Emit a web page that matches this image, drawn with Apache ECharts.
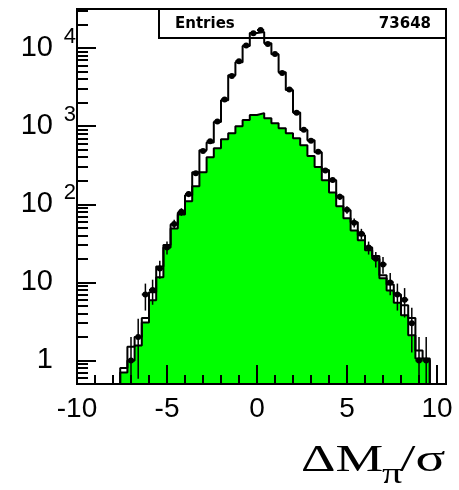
<!DOCTYPE html>
<html><head><meta charset="utf-8">
<script src="https://cdn.jsdelivr.net/npm/echarts@6/dist/echarts.min.js"></script>
<style>html,body{margin:0;padding:0;background:#fff}#c{width:459px;height:490px}</style>
</head><body><div id="c"></div>
<script>
// ---- data ----
const binCenters = [-7.4, -7.0, -6.6, -6.2, -5.8, -5.4, -5.0, -4.6, -4.2, -3.8, -3.4, -3.0, -2.6, -2.2, -1.8, -1.4, -1.0, -0.6, -0.2, 0.2, 0.6, 1.0, 1.4, 1.8, 2.2, 2.6, 3.0, 3.4, 3.8, 4.2, 4.6, 5.0, 5.4, 5.8, 6.2, 6.6, 7.0, 7.4, 7.8, 8.2, 8.6, 9.0, 9.4];
const BIN_WIDTH = 0.4;
const totalMC = [0.8, 1.5, 2.0, 3.5, 7.5, 16, 30, 55, 78, 130, 257, 490, 620, 1130, 2150, 4500, 6600, 10600, 15600, 16000, 11500, 8300, 4900, 2900, 1500, 890, 660, 465, 275, 203, 126, 84, 59, 40, 28, 21.7, 12.3, 9.4, 7.0, 5.1, 3.5, 1.34, 1.06];
const greenMC = [0.7, 1.0, 1.56, 3.07, 5.9, 11.6, 28, 49, 74, 109, 170, 257, 400, 523, 680, 812, 1000, 1200, 1390, 1470, 1260, 1090, 940, 812, 700, 570, 415, 300, 203, 142, 94, 66, 46, 34.6, 25.7, 20, 11.3, 7.9, 5.5, 3.8, 2.1, 1.06, 1.0];
const dataCounts = [null, 1, 2, 7, 8, 15, 28, 56, 80, 135, 250, 480, 640, 1150, 2200, 4400, 6800, 10800, 15500, 17000, 11300, 8400, 4800, 2950, 1480, 900, 650, 470, 270, 205, 125, 85, 58, 42, 28, 20, 17, 10, 7, 6, 3, 1, 1];
const xMajorTicks = [-10, -5, 0, 5, 10];
const xMinorTicks = [-9, -8, -7, -6, -4, -3, -2, -1, 1, 2, 3, 4, 6, 7, 8, 9];
const yMinorTicks = [0.6, 0.7, 0.8, 0.9, 2, 3, 4, 5, 6, 7, 8, 9, 20, 30, 40, 50, 60, 70, 80, 90,
  200, 300, 400, 500, 600, 700, 800, 900, 2000, 3000, 4000, 5000, 6000, 7000, 8000, 9000, 20000, 30000];
const yLabelText = {1: '1', 10: '10', 100: '10', 1000: '10', 10000: '10'};
const yExponentText = {100: '2', 1000: '3', 10000: '4'};
const statsName = 'Entries';
const statsValue = '73648';
const X_MIN = -10, X_MAX = 10.5, Y_MIN = 0.5, Y_MAX = 31623;

function stepPoints(vals) {
  const n = vals.length;
  const pts = [[binCenters[0] - BIN_WIDTH / 2, Y_MIN]];
  for (let i = 0; i < n; i++) pts.push([binCenters[i] - BIN_WIDTH / 2, vals[i]]);
  pts.push([binCenters[n - 1] + BIN_WIDTH / 2, vals[n - 1]]);
  pts.push([binCenters[n - 1] + BIN_WIDTH / 2, Y_MIN]);
  return pts;
}
const dataPoints = [];
binCenters.forEach((c, i) => { if (dataCounts[i] != null) dataPoints.push([c, dataCounts[i], Math.sqrt(dataCounts[i])]); });
function isDecade(v, table) {
  const r = Math.round(v);
  return Math.abs(v - r) < 1e-6 && table[r] !== undefined;
}

const chart = echarts.init(document.getElementById('c'), null, {renderer: 'canvas'});
const FONT = 'Liberation Sans';
chart.setOption({
  animation: false,
  backgroundColor: '#fff',
  grid: {left: 77, top: 9, width: 369, height: 375, show: true, borderColor: '#000', borderWidth: 2, backgroundColor: 'transparent'},
  xAxis: [
    {type: 'value', min: X_MIN, max: X_MAX, position: 'bottom', z: 10,
     axisLine: {onZero: false, lineStyle: {color: '#000', width: 2}},
     axisTick: {inside: true, length: 19, lineStyle: {color: '#000', width: 2}, customValues: xMajorTicks},
     axisLabel: {customValues: xMajorTicks, margin: 11, color: '#000', fontFamily: FONT, fontSize: 28},
     splitLine: {show: false}},
    {type: 'value', min: X_MIN, max: X_MAX, position: 'bottom', z: 10,
     axisLine: {show: false, onZero: false},
     axisTick: {inside: true, length: 9, lineStyle: {color: '#000', width: 2}, customValues: xMinorTicks},
     axisLabel: {show: false}, splitLine: {show: false}}
  ],
  yAxis: [
    {type: 'log', logBase: 10, min: Y_MIN, max: Y_MAX, position: 'left', z: 10,
     axisLine: {show: true, onZero: false, lineStyle: {color: '#000', width: 2}},
     axisTick: {inside: true, length: 19, lineStyle: {color: '#000', width: 2}},
     axisLabel: {margin: 24, color: '#000', fontFamily: FONT, fontSize: 29,
       formatter: v => isDecade(v, yLabelText) ? yLabelText[Math.round(v)] : ''},
     splitLine: {show: false}},
    {type: 'log', logBase: 10, min: Y_MIN, max: Y_MAX, position: 'left', z: 10,
     axisLine: {show: false, onZero: false},
     axisTick: {inside: true, length: 11, lineStyle: {color: '#000', width: 2}, customValues: yMinorTicks},
     axisLabel: {margin: 1, color: '#000',
       formatter: v => isDecade(v, yExponentText) ? '{e|' + yExponentText[Math.round(v)] + '}\n{s| }' : '',
       rich: {e: {fontFamily: FONT, fontSize: 22, lineHeight: 22, color: '#000'},
              s: {fontSize: 10, lineHeight: 22}}},
     splitLine: {show: false}}
  ],
  graphic: [
    {type: 'rect', z: 1, shape: {x: 159, y: 9, width: 287, height: 29}, style: {fill: '#fff', stroke: '#000', lineWidth: 2}},
    {type: 'text', z: 1, x: 175, y: 24, style: {text: statsName, font: 'bold 15px "DejaVu Sans"', fill: '#000', align: 'left', verticalAlign: 'middle', textAlign: 'left', textVerticalAlign: 'middle'}},
    {type: 'text', z: 1, x: 431, y: 24, style: {text: statsValue, font: 'bold 15px "DejaVu Sans"', fill: '#000', align: 'right', verticalAlign: 'middle', textAlign: 'right', textVerticalAlign: 'middle'}},
    {type: 'text', z: 1, x: 301, y: 461, scaleX: 1.45, style: {text: 'ΔM', font: '37px "Liberation Serif"', fill: '#000', align: 'left', verticalAlign: 'middle', textAlign: 'left', textVerticalAlign: 'middle'}},
    {type: 'text', z: 1, x: 382, y: 475, scaleX: 1.35, style: {text: 'π', font: '30px "Liberation Serif"', fill: '#000', align: 'left', verticalAlign: 'middle', textAlign: 'left', textVerticalAlign: 'middle'}},
    {type: 'text', z: 1, x: 400, y: 461, scaleX: 1.5, style: {text: '/σ', font: '37px "Liberation Serif"', fill: '#000', align: 'left', verticalAlign: 'middle', textAlign: 'left', textVerticalAlign: 'middle'}}
  ],
  series: [
    {type: 'line', name: 'green', xAxisIndex: 0, yAxisIndex: 0, step: 'end', symbol: 'none', z: 3,
     data: stepPoints(greenMC), lineStyle: {color: '#000', width: 2},
     areaStyle: {color: '#00ff00', opacity: 1, origin: 'start'}},
    {type: 'line', name: 'total', xAxisIndex: 0, yAxisIndex: 0, step: 'end', symbol: 'none', z: 4,
     data: stepPoints(totalMC), lineStyle: {color: '#000', width: 2}},
    {type: 'custom', name: 'data', xAxisIndex: 0, yAxisIndex: 0, z: 5, clip: true,
     data: dataPoints,
     renderItem: function (params, api) {
       const x = api.value(0), y = api.value(1), e = api.value(2);
       const c = api.coord([x, y]);
       const top = api.coord([x, y + e]);
       const bot = api.coord([x, Math.max(y - e, Y_MIN)]);
       const l = api.coord([x - BIN_WIDTH / 2, y]);
       const r = api.coord([x + BIN_WIDTH / 2, y]);
       return {type: 'group', children: [
         {type: 'line', shape: {x1: c[0], y1: top[1], x2: c[0], y2: bot[1]}, style: {stroke: '#000', lineWidth: 1.5}},
         {type: 'line', shape: {x1: l[0], y1: c[1], x2: r[0], y2: c[1]}, style: {stroke: '#000', lineWidth: 2}},
         {type: 'circle', shape: {cx: c[0], cy: c[1], r: 3}, style: {fill: '#000'}}
       ]};
     }}
  ]
});
</script></body></html>
